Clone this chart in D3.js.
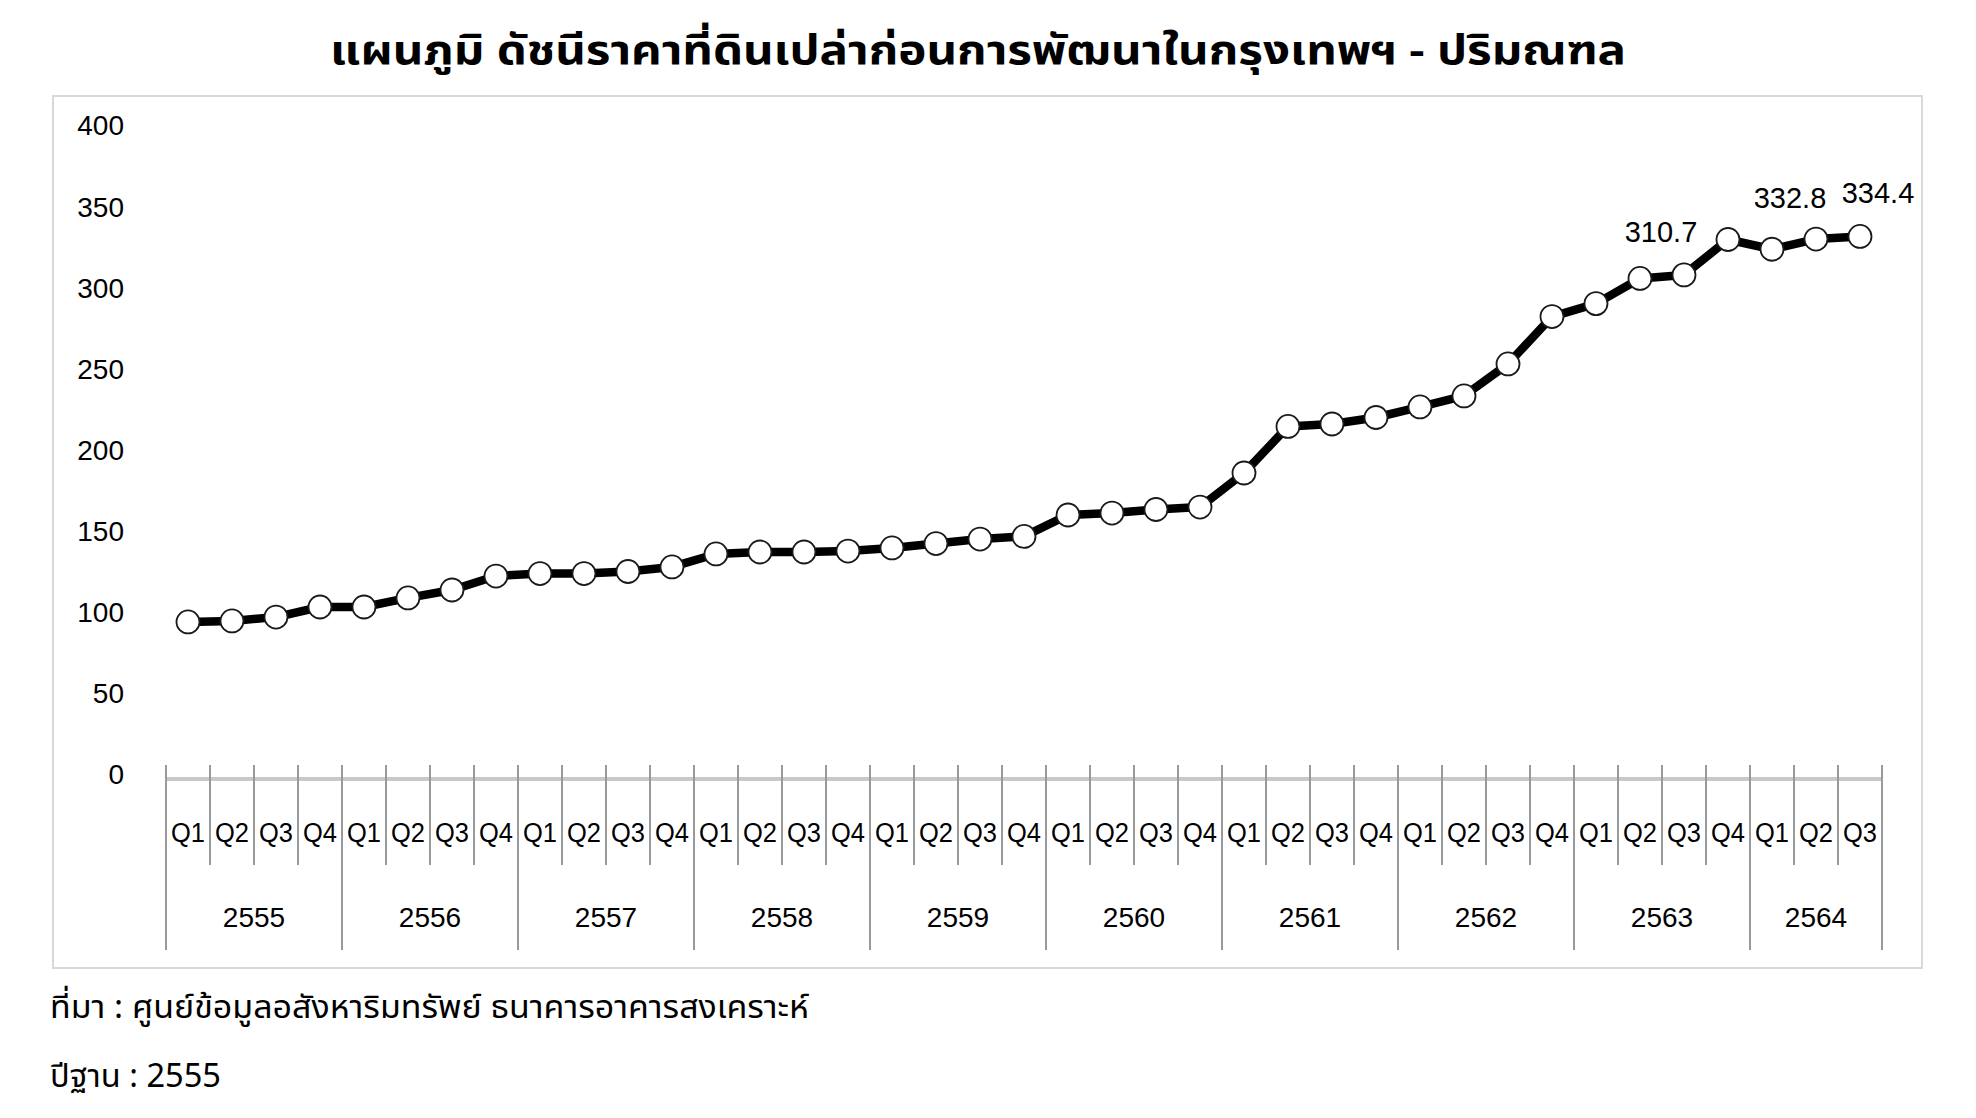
<!DOCTYPE html>
<html>
<head>
<meta charset="utf-8">
<script src="https://cdn.jsdelivr.net/npm/d3@7"></script>
<style>
  html, body { margin: 0; padding: 0; background: #fff; }
  svg { display: block; }
  text { font-family: "Liberation Sans", Arial, "Noto Sans", sans-serif; fill: #000; }
  .thai { font-family: "Noto Sans Thai", "Noto Sans Thai UI", "Loma", "Garuda", "Liberation Sans", "Noto Sans", sans-serif; }
</style>
</head>
<body>
<svg id="chart" width="1976" height="1118"></svg>
<script>
// ---------------- DATA ----------------
const titleText = "แผนภูมิ ดัชนีราคาที่ดินเปล่าก่อนการพัฒนาในกรุงเทพฯ - ปริมณฑล";
const sourceText = "ที่มา : ศูนย์ข้อมูลอสังหาริมทรัพย์ ธนาคารอาคารสงเคราะห์";
const baseYearText = "ปีฐาน : 2555";

const years = [2555, 2556, 2557, 2558, 2559, 2560, 2561, 2562, 2563, 2564];
const quarters = ["Q1", "Q2", "Q3", "Q4"];
const quartersInLastYear = 3;

const values = [
  96.8, 97.4, 99.8, 106.0,      // 2555
  106.0, 111.6, 116.5, 125.1,   // 2556
  126.6, 126.6, 127.9, 130.7,   // 2557
  138.7, 139.9, 139.9, 140.5,   // 2558
  142.4, 145.1, 147.9, 149.5,   // 2559
  162.7, 163.9, 166.1, 167.6,   // 2560
  188.6, 217.3, 218.8, 222.8,   // 2561
  229.3, 236.1, 255.8, 285.0,   // 2562
  293.0, 308.5, 310.7, 332.5,   // 2563
  326.5, 332.8, 334.4           // 2564
];
const labeledIndices = [34, 37, 38];
const yTicks = [0, 50, 100, 150, 200, 250, 300, 350, 400];

// ---------------- BUILD CATEGORIES ----------------
const categories = [];
years.forEach((y, yi) => {
  const n = yi === years.length - 1 ? quartersInLastYear : quarters.length;
  for (let q = 0; q < n; q++) categories.push({ key: y + "-" + quarters[q], year: y, q: quarters[q] });
});
const points = categories.map((c, i) => ({ ...c, value: values[i], i }));

// ---------------- LAYOUT ----------------
const svg = d3.select("#chart");
const plotLeft = 166, plotRight = 1882;
const x = d3.scaleBand().domain(categories.map(c => c.key)).range([plotLeft, plotRight]).padding(0);
const y = d3.scaleLinear().domain([0, 400]).range([779, 130]);

// chart frame
svg.append("rect")
  .attr("x", 53).attr("y", 96).attr("width", 1869).attr("height", 872)
  .attr("fill", "#fff").attr("stroke", "#d9d9d9").attr("stroke-width", 2);

// title
svg.append("text").attr("class", "thai")
  .attr("x", 978).attr("y", 64)
  .attr("text-anchor", "middle")
  .attr("font-size", 40).attr("font-weight", "bold")
  .attr("textLength", 1296).attr("lengthAdjust", "spacingAndGlyphs")
  .text(titleText);

// y axis labels (no axis line, no gridlines)
const yAxis = d3.axisLeft(y).tickValues(yTicks).tickSize(0).tickPadding(0).tickFormat(d3.format("d"));
const yg = svg.append("g").attr("transform", "translate(124,-4)").call(yAxis);
yg.select(".domain").remove();
yg.selectAll("text").attr("font-size", 28).attr("font-family", "Liberation Sans, Arial, sans-serif").attr("fill", "#000");

// x axis: line + ticks
const axisY = y(0);
svg.append("line")
  .attr("x1", plotLeft).attr("x2", plotRight)
  .attr("y1", axisY).attr("y2", axisY)
  .attr("stroke", "#c8c8c8").attr("stroke-width", 4);

// boundaries between categories
const boundaries = categories.map(c => ({ x: x(c.key), yearStart: c.q === "Q1" }));
boundaries.push({ x: x(categories[categories.length - 1].key) + x.bandwidth(), yearStart: true });
svg.append("g").selectAll("line").data(boundaries).join("line")
  .attr("x1", d => d.x).attr("x2", d => d.x)
  .attr("y1", 765).attr("y2", d => d.yearStart ? 950 : 865)
  .attr("stroke", "#9a9a9a").attr("stroke-width", 2);

// quarter labels
svg.append("g").selectAll("text").data(categories).join("text")
  .attr("x", d => x(d.key) + x.bandwidth() / 2)
  .attr("y", 842)
  .attr("text-anchor", "middle")
  .attr("font-size", 27)
  .attr("textLength", 34).attr("lengthAdjust", "spacingAndGlyphs")
  .text(d => d.q);

// year labels
const yearGroups = d3.groups(categories, d => d.year);
svg.append("g").selectAll("text").data(yearGroups).join("text")
  .attr("x", d => (x(d[1][0].key) + x(d[1][d[1].length - 1].key) + x.bandwidth()) / 2)
  .attr("y", 927)
  .attr("text-anchor", "middle")
  .attr("font-size", 28)
  .text(d => d[0]);

// line
const line = d3.line()
  .x(d => x(d.key) + x.bandwidth() / 2)
  .y(d => y(d.value));
svg.append("path").datum(points)
  .attr("d", line)
  .attr("fill", "none").attr("stroke", "#000").attr("stroke-width", 8.5)
  .attr("stroke-linejoin", "round");

// markers
svg.append("g").selectAll("circle").data(points).join("circle")
  .attr("cx", d => x(d.key) + x.bandwidth() / 2)
  .attr("cy", d => y(d.value))
  .attr("r", 11.5)
  .attr("fill", "#fff").attr("stroke", "#1a1a1a").attr("stroke-width", 1.8);

// data labels
const labelOffsets = { 34: [-23, -33], 37: [-26, -31], 38: [18, -33] };
svg.append("g").selectAll("text").data(points.filter(p => labeledIndices.includes(p.i))).join("text")
  .attr("x", d => x(d.key) + x.bandwidth() / 2 + labelOffsets[d.i][0])
  .attr("y", d => y(d.value) + labelOffsets[d.i][1])
  .attr("text-anchor", "middle")
  .attr("font-size", 29)
  .text(d => d3.format(".1f")(d.value));

// source & base year
svg.append("text").attr("class", "thai")
  .attr("x", 50).attr("y", 1018)
  .attr("font-size", 32)
  .attr("textLength", 759).attr("lengthAdjust", "spacingAndGlyphs")
  .text(sourceText);
svg.append("text").attr("class", "thai")
  .attr("x", 50).attr("y", 1087)
  .attr("font-size", 32)
  .attr("textLength", 171).attr("lengthAdjust", "spacingAndGlyphs")
  .text(baseYearText);
</script>
</body>
</html>
